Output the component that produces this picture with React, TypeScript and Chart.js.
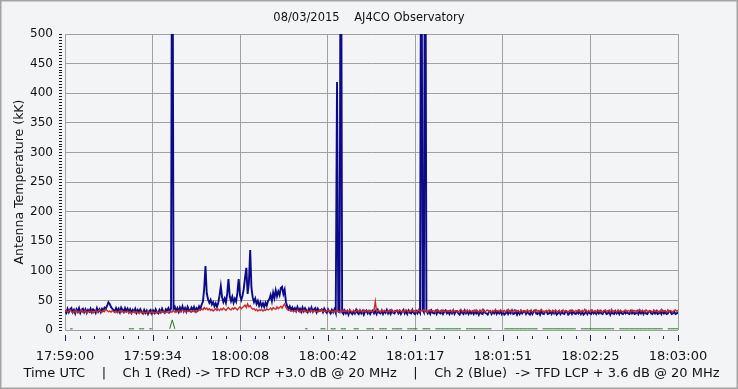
import React, { useEffect, useRef } from "react";
import { Chart, registerables } from "chart.js";

Chart.register(...registerables);

// ---- data ----
const TITLE = "08/03/2015    AJ4CO Observatory";
const Y_TITLE = "Antenna Temperature (kK)";
const X_TITLE =
  "Time UTC    |    Ch 1 (Red) -> TFD RCP +3.0 dB @ 20 MHz    |    Ch 2 (Blue)  -> TFD LCP + 3.6 dB @ 20 MHz";

const xTickLabels = [
  "17:59:00",
  "17:59:34",
  "18:00:08",
  "18:00:42",
  "18:01:17",
  "18:01:51",
  "18:02:25",
  "18:03:00",
];
const X_SPAN_SECONDS = 240;
const X_MINOR_PER_MAJOR = 6;
const Y_MAX = 500;
const Y_MAJOR_STEP = 50;
const Y_MINOR_STEP = 5;

// Seconds after 17:59:00 between samples of the two channels
const SAMPLE_STEP = 0.5;
// Green (status) trace sampled every second
const GREEN_STEP = 1;

// Ch 2 (Blue) antenna temperature, kK, every 0.5 s
const blueValues = [
  33, 29, 36, 30, 35, 37, 30, 34, 28, 35, 31, 37, 29, 34, 36, 30, 35, 29, 34, 31,
  36, 30, 35, 33, 29, 37, 31, 35, 30, 36, 33, 38, 36, 41, 47, 44, 39, 36, 34, 31,
  37, 32, 36, 30, 38, 34, 31, 37, 32, 36, 30, 35, 29, 34, 31, 36, 29, 34, 30, 35,
  31, 28, 34, 29, 33, 27, 32, 34, 28, 33, 29, 35, 30, 28, 34, 30, 36, 31, 29, 35,
  33, 37, 31, 36, 900, 35, 39, 32, 37, 31, 38, 33, 40, 32, 37, 31, 39, 34, 32, 38,
  34, 39, 32, 37, 34, 40, 36, 43, 48, 70, 108, 62, 52, 46, 51, 43, 47, 40, 45, 39,
  46, 58, 74, 55, 47, 53, 46, 61, 86, 57, 49, 56, 46, 53, 48, 63, 86, 59, 51, 58,
  70, 89, 105, 61, 80, 135, 71, 55, 47, 53, 44, 49, 41, 47, 40, 45, 39, 46, 41, 49,
  52, 59, 49, 63, 54, 67, 57, 65, 59, 71, 73, 61, 68, 47, 40, 36, 40, 34, 38, 33,
  37, 32, 39, 33, 36, 31, 38, 32, 37, 33, 30, 36, 32, 38, 31, 35, 37, 30, 36, 32,
  33, 35, 30, 36, 32, 29, 35, 31, 28, 34, 30, 35, 29, 419, 31, 30, 900, 30, 27, 33,
  28, 32, 26, 33, 29, 27, 32, 28, 34, 29, 27, 33, 28, 32, 26, 31, 33, 28, 32, 27,
  31, 33, 28, 32, 27, 34, 29, 28, 33, 27, 32, 29, 34, 28, 32, 27, 33, 29, 28, 32,
  33, 28, 32, 27, 31, 34, 28, 32, 27, 33, 29, 28, 34, 29, 27, 32, 28, 33, 29, 900,
  34, 30, 900, 33, 28, 32, 27, 33, 29, 28, 32, 27, 33, 29, 28, 32, 27, 31, 33, 28,
  31, 27, 32, 28, 33, 27, 31, 32, 28, 26, 32, 29, 27, 33, 28, 31, 27, 32, 28, 31,
  27, 32, 28, 31, 26, 32, 28, 27, 33, 29, 28, 26, 31, 32, 27, 31, 28, 33, 27, 31,
  28, 32, 27, 31, 26, 28, 32, 27, 31, 28, 33, 27, 28, 32, 26, 31, 27, 32, 28, 31,
  32, 27, 31, 28, 26, 32, 27, 31, 33, 28, 27, 31, 26, 32, 28, 27, 31, 32, 27, 28,
  31, 27, 32, 28, 31, 26, 28, 32, 27, 31, 28, 27, 32, 31, 26, 28, 32, 27, 31, 28,
  27, 31, 28, 32, 27, 31, 26, 28, 32, 27, 31, 28, 27, 32, 28, 31, 27, 31, 28, 32,
  28, 27, 32, 31, 27, 28, 32, 26, 31, 28, 27, 32, 28, 31, 27, 32, 28, 27, 31, 28,
  31, 28, 27, 32, 28, 31, 27, 28, 32, 27, 31, 28, 32, 27, 31, 28, 27, 31, 32, 28,
  27, 31, 28, 32, 27, 28, 31, 27, 32, 28, 31, 27, 28, 32, 31, 27, 28, 31, 27, 28,
  30,
];

// Ch 1 (Red) antenna temperature, kK, every 0.5 s
const redValues = [
  31, 33, 30, 32, 34, 31, 29, 32, 30, 33, 31, 29, 32, 34, 30, 31, 33, 29, 31, 32,
  30, 32, 29, 31, 33, 30, 32, 34, 31, 30, 33, 31, 35, 33, 31, 32, 30, 33, 31, 30,
  32, 29, 31, 33, 30, 32, 29, 31, 30, 32, 29, 31, 28, 30, 32, 29, 31, 30, 28, 31,
  29, 31, 28, 30, 29, 32, 30, 28, 31, 29, 30, 28, 31, 30, 29, 32, 30, 31, 29, 30,
  31, 29, 32, 30, 31, 33, 30, 32, 31, 33, 30, 32, 34, 31, 33, 30, 32, 31, 33, 30,
  32, 31, 33, 30, 32, 34, 33, 36, 34, 38, 35, 37, 34, 36, 33, 35, 32, 34, 36, 33,
  35, 33, 36, 34, 37, 35, 33, 36, 38, 35, 34, 37, 35, 38, 36, 34, 37, 39, 36, 38,
  40, 42, 38, 44, 39, 41, 37, 35, 36, 33, 35, 32, 34, 33, 35, 32, 34, 33, 36, 34,
  35, 37, 34, 38, 36, 35, 39, 36, 38, 40, 37, 41, 44, 38, 35, 33, 34, 32, 33, 31,
  33, 31, 34, 32, 30, 33, 31, 34, 32, 30, 33, 31, 32, 34, 30, 33, 31, 32, 30, 33,
  32, 34, 31, 33, 30, 32, 34, 31, 33, 32, 30, 33, 31, 34, 32, 30, 33, 31, 34, 32,
  31, 33, 30, 34, 32, 31, 33, 30, 32, 34, 31, 33, 32, 30, 34, 31, 33, 32, 30, 33,
  32, 30, 34, 48, 31, 33, 32, 30, 34, 31, 33, 32, 30, 33, 31, 34, 32, 30, 33, 31,
  33, 31, 34, 32, 30, 33, 31, 34, 32, 30, 33, 32, 34, 31, 33, 30, 32, 34, 31, 33,
  32, 34, 31, 33, 30, 32, 34, 31, 33, 32, 30, 34, 32, 31, 33, 30, 34, 32, 31, 33,
  31, 33, 32, 30, 34, 31, 33, 32, 30, 33, 35, 31, 33, 32, 30, 34, 31, 33, 32, 31,
  33, 31, 34, 32, 30, 33, 31, 35, 32, 30, 33, 34, 31, 32, 30, 33, 31, 34, 32, 33,
  31, 34, 32, 30, 33, 31, 32, 35, 31, 33, 30, 32, 34, 31, 33, 32, 30, 34, 31, 33,
  32, 30, 34, 31, 33, 32, 30, 33, 31, 34, 32, 30, 33, 35, 31, 32, 30, 33, 31, 34,
  32, 31, 33, 30, 34, 32, 31, 33, 30, 32, 34, 31, 33, 32, 30, 33, 31, 34, 32, 31,
  33, 31, 34, 32, 30, 33, 31, 35, 32, 30, 33, 31, 34, 32, 31, 33, 30, 34, 32, 31,
  33, 30, 32, 34, 31, 33, 32, 30, 35, 31, 33, 32, 30, 34, 31, 33, 32, 30, 33, 34,
  31, 33, 32, 30, 34, 31, 33, 32, 30, 33, 35, 31, 33, 32, 30, 34, 32, 31, 33, 32,
  30, 34, 32, 31, 33, 30, 32, 35, 31, 33, 32, 30, 34, 31, 33, 32, 30, 33, 34, 32,
  33,
];

const n = null;
// Green trace, every 1 s (null = no sample)
const greenValues: (number | null)[] = [
  2, n, 2, 2, n, 2, n, n, n, n,
  n, n, n, n, n, n, n, n, n, n,
  n, n, n, n, n, 2, 2, 2, n, 2,
  2, 2, n, 2, 2, n, n, n, n, n,
  n, 2, 17, 2, n, n, n, n, n, n,
  n, n, n, n, n, n, n, n, n, n,
  n, n, n, n, n, n, n, n, n, n,
  n, n, n, n, n, n, n, n, n, n,
  n, n, n, n, n, n, n, n, 2, n,
  n, 2, n, n, 2, 2, n, 2, n, n,
  2, 2, 2, n, 2, 2, 2, n, 2, 2,
  2, n, n, 2, 2, 2, n, n, 2, 2,
  2, 2, n, 2, 2, 2, 2, n, 2, 2,
  2, 2, 2, n, 2, 2, 2, 2, 2, n,
  2, 2, 2, 2, n, 2, 2, 2, 2, 2,
  2, 2, 2, 2, 2, 2, n, 2, 2, 2,
  2, 2, 2, 2, 2, 2, 2, 2, n, n,
  n, n, 2, 2, 2, 2, 2, 2, 2, 2,
  2, 2, 2, 2, 2, 2, n, 2, 2, 2,
  2, 2, 2, 2, 2, 2, 2, 2, 2, 2,
  2, n, 2, 2, 2, 2, 2, 2, 2, 2,
  2, 2, 2, 2, 2, 2, n, 2, 2, 2,
  2, 2, 2, 2, 2, 2, 2, 2, 2, 2,
  2, 2, 2, 2, 2, n, 2, 2, 2, 2, 2,
];

// ---- styles ----
const FONT = "'DejaVu Sans', Verdana, sans-serif";
const BG = "#f3f4f6";
const GRID = "#a0a0a0";
const TICK_MARK = "#1c2450";
const TEXT = "#111111";

const frameAndTexts = {
  id: "frameAndTexts",
  beforeDraw(chart: any) {
    const { ctx, width, height } = chart;
    ctx.save();
    ctx.fillStyle = BG;
    ctx.fillRect(0, 0, width, height);
    ctx.strokeStyle = "#a4a4a4";
    ctx.lineWidth = 3;
    ctx.strokeRect(0, 0, width, height);
    ctx.restore();
  },
  afterDraw(chart: any) {
    const { ctx, width, chartArea } = chart;
    ctx.save();
    ctx.fillStyle = TEXT;
    ctx.textAlign = "center";
    ctx.textBaseline = "middle";
    ctx.font = `11.5px ${FONT}`;
    ctx.fillText(TITLE, width / 2, 18);
    ctx.textBaseline = "alphabetic";
    ctx.font = `13px ${FONT}`;
    ctx.fillText(X_TITLE, (chartArea.left + chartArea.right) / 2, 377);
    ctx.restore();
  },
};

const tickMarks = {
  id: "tickMarks",
  afterDraw(chart: any) {
    const { ctx, chartArea } = chart;
    const xs = chart.scales.x;
    const ys = chart.scales.y;
    ctx.save();
    ctx.lineWidth = 1;
    ctx.strokeStyle = TICK_MARK;
    xs.ticks.forEach((t: any, i: number) => {
      const px = Math.round(xs.getPixelForValue(t.value)) + 0.5;
      const major = i % X_MINOR_PER_MAJOR === 0;
      ctx.beginPath();
      ctx.moveTo(px, chartArea.bottom + (major ? 5 : 6));
      ctx.lineTo(px, chartArea.bottom + (major ? 11 : 9));
      ctx.stroke();
    });
    ctx.strokeStyle = "#1a1a1a";
    ys.ticks.forEach((t: any) => {
      const py = Math.round(ys.getPixelForValue(t.value)) + 0.5;
      ctx.beginPath();
      ctx.moveTo(chartArea.left - 6, py);
      ctx.lineTo(chartArea.left - 3, py);
      ctx.stroke();
    });
    ctx.restore();
  },
};

export default function App() {
  const ref = useRef<HTMLCanvasElement | null>(null);

  useEffect(() => {
    document.body.style.margin = "0";
    const canvas = ref.current;
    if (!canvas) return;

    const blue = blueValues.map((v, i) => ({ x: i * SAMPLE_STEP, y: v }));
    const red = redValues.map((v, i) => ({ x: i * SAMPLE_STEP, y: v }));
    const green = greenValues.map((v, i) => ({ x: i * GREEN_STEP, y: v }));

    const xStep = X_SPAN_SECONDS / ((xTickLabels.length - 1) * X_MINOR_PER_MAJOR);
    const yMinorPerMajor = Y_MAJOR_STEP / Y_MINOR_STEP;

    const chart = new Chart(canvas, {
      type: "line",
      data: {
        datasets: [
          {
            label: "Green",
            data: green as any,
            borderColor: "#237a23",
            borderWidth: 1,
            pointRadius: 0,
            spanGaps: false,
            tension: 0,
          },
          {
            label: "Ch 1 (Red)",
            data: red,
            borderColor: "#cc2a2a",
            borderWidth: 1.4,
            pointRadius: 0,
            tension: 0,
          },
          {
            label: "Ch 2 (Blue)",
            data: blue,
            borderColor: "#0b0b8a",
            borderWidth: 1.9,
            pointRadius: 0,
            tension: 0,
          },
        ],
      },
      options: {
        animation: false,
        responsive: false,
        devicePixelRatio: 1,
        events: [],
        layout: { padding: { top: 34, right: 60, left: 0, bottom: 0 } },
        font: { family: FONT },
        plugins: {
          legend: { display: false },
          tooltip: { enabled: false },
          title: { display: false },
        },
        scales: {
          x: {
            type: "linear",
            min: 0,
            max: X_SPAN_SECONDS,
            afterBuildTicks: (scale: any) => {
              const count = (xTickLabels.length - 1) * X_MINOR_PER_MAJOR;
              scale.ticks = Array.from({ length: count + 1 }, (_, i) => ({
                value: i * xStep,
              }));
            },
            afterFit: (scale: any) => {
              scale.height = 59;
            },
            grid: {
              color: (c: any) =>
                c.index % X_MINOR_PER_MAJOR === 0 ? GRID : "rgba(0,0,0,0)",
              drawTicks: false,
              lineWidth: 1,
            },
            border: { display: false },
            ticks: {
              autoSkip: false,
              maxRotation: 0,
              padding: 19,
              color: TEXT,
              font: { family: FONT, size: 13 },
              callback: (_v: any, i: number) =>
                i % X_MINOR_PER_MAJOR === 0 ? xTickLabels[i / X_MINOR_PER_MAJOR] : "",
            },
            title: { display: false },
          },
          y: {
            type: "linear",
            min: 0,
            max: Y_MAX,
            afterBuildTicks: (scale: any) => {
              scale.ticks = Array.from(
                { length: Y_MAX / Y_MINOR_STEP + 1 },
                (_, i) => ({ value: i * Y_MINOR_STEP })
              );
            },
            afterFit: (scale: any) => {
              scale.width = 65;
            },
            grid: {
              color: (c: any) =>
                c.index % yMinorPerMajor === 0 ? GRID : "rgba(0,0,0,0)",
              drawTicks: false,
              lineWidth: 1,
            },
            border: { display: false },
            ticks: {
              autoSkip: false,
              padding: 12,
              color: TEXT,
              font: { family: FONT, size: 12 },
              callback: (v: any, i: number) =>
                i % yMinorPerMajor === 0 ? String(v) : "",
            },
            title: {
              display: true,
              text: Y_TITLE,
              color: TEXT,
              font: { family: FONT, size: 12.5 },
              padding: { top: 12, bottom: 0 },
            },
          },
        },
      },
      plugins: [frameAndTexts, tickMarks],
    });

    return () => chart.destroy();
  }, []);

  return (
    <div style={{ width: 738, height: 389 }}>
      <canvas ref={ref} width={738} height={389} style={{ display: "block" }} />
    </div>
  );
}
